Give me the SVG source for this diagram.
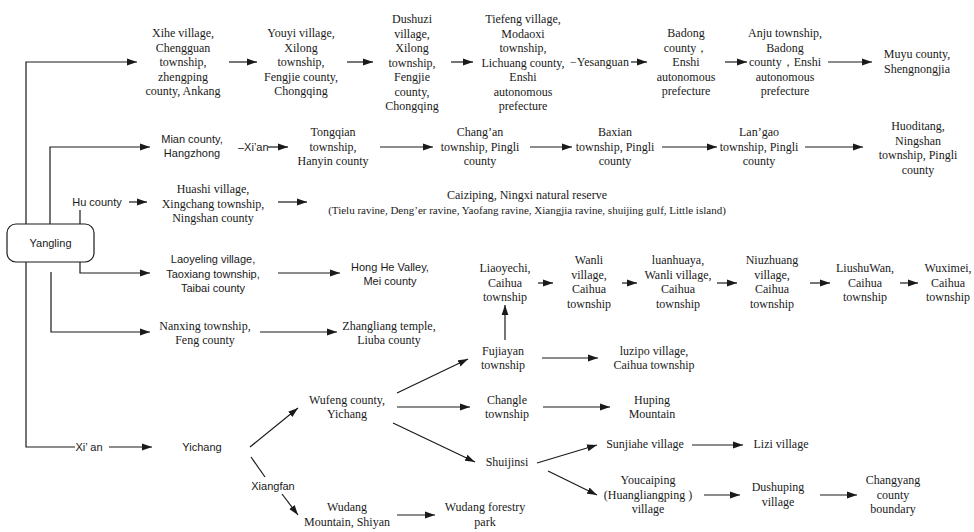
<svg xmlns="http://www.w3.org/2000/svg" width="974" height="532" viewBox="0 0 974 532">
<style>
.s{font-family:"Liberation Serif","Times New Roman",serif;font-size:12px;fill:#1a1a1a;text-anchor:middle}
.a{font-family:"Liberation Sans",Arial,sans-serif;font-size:11px;fill:#1a1a1a;text-anchor:middle}
.st{text-anchor:start}
.c path{fill:none;stroke:#1a1a1a;stroke-width:1.2}
.c .ar{marker-end:url(#ah)}
.box{fill:#fff;stroke:#1a1a1a;stroke-width:1.2}
</style>
<defs>
<marker id="ah" markerUnits="userSpaceOnUse" markerWidth="11" markerHeight="8" refX="10" refY="4" orient="auto">
<path d="M0,0.6 L10,4 L0,7.4 z" fill="#1a1a1a"/>
</marker>
</defs>
<rect width="974" height="532" fill="#fff"/>

<g id="connectors" class="c">
<path class="ar" d="M26,224 V62 H137"/>
<path class="ar" d="M50,224 V147 H150"/>
<path d="M80,224 V210"/>
<path class="ar" d="M129,202 H147"/>
<path class="ar" d="M278,202 H307"/>
<path class="ar" d="M268,147 H288"/>
<path class="ar" d="M380,147 H433"/>
<path class="ar" d="M530,147 H572"/>
<path class="ar" d="M662,147 H717"/>
<path class="ar" d="M805,147 H863"/>
<path class="ar" d="M229,62 H257"/>
<path class="ar" d="M347,62 H373"/>
<path class="ar" d="M451,62 H473"/>
<path class="ar" d="M631,62 H647"/>
<path class="ar" d="M725,62 H747"/>
<path class="ar" d="M828,62 H872"/>
<path class="ar" d="M80,262 V273 H150"/>
<path class="ar" d="M51,272 V332 H150"/>
<path d="M26,262 V447 H75"/>
<path class="ar" d="M109,447 H152"/>
<path class="ar" d="M278,273 H340"/>
<path class="ar" d="M260,332 H337"/>
<path class="ar" d="M538,283 H553"/>
<path class="ar" d="M622,283 H637"/>
<path class="ar" d="M717,283 H737"/>
<path class="ar" d="M810,283 H830"/>
<path class="ar" d="M900,283 H918"/>
<path class="ar" d="M505,340 V305"/>
<path class="ar" d="M542,358 H598"/>
<path class="ar" d="M543,407 H610"/>
<path class="ar" d="M250,447 L298,408"/>
<path class="ar" d="M397,393 L468,359"/>
<path class="ar" d="M397,407 H470"/>
<path class="ar" d="M393,423 L475,462"/>
<path d="M251,457 L265,477"/>
<path class="ar" d="M282,494 L298,515"/>
<path class="ar" d="M397,515 H435"/>
<path class="ar" d="M537,463 L597,445"/>
<path class="ar" d="M692,445 H743"/>
<path class="ar" d="M548,471 L597,495"/>
<path class="ar" d="M704,495 H740"/>
<path class="ar" d="M820,495 H857"/>
</g>

<g id="n_yangling"><rect class="box" x="7" y="224" width="87" height="38" rx="9"/><text class="a" x="50.5" y="247">Yangling</text></g>

<g id="n_xihe"><text class="s" x="183" y="37"><tspan x="183">Xihe village,</tspan><tspan x="183" dy="14.5">Chengguan</tspan><tspan x="183" dy="14.5">township,</tspan><tspan x="183" dy="14.5">zhengping</tspan><tspan x="183" dy="14.5">county, Ankang</tspan></text></g>
<g id="n_youyi"><text class="s" x="301" y="37"><tspan x="301">Youyi village,</tspan><tspan x="301" dy="14.5">Xilong</tspan><tspan x="301" dy="14.5">township,</tspan><tspan x="301" dy="14.5">Fengjie county,</tspan><tspan x="301" dy="14.5">Chongqing</tspan></text></g>
<g id="n_dushuzi"><text class="s" x="412" y="23"><tspan x="412">Dushuzi</tspan><tspan x="412" dy="14.5">village,</tspan><tspan x="412" dy="14.5">Xilong</tspan><tspan x="412" dy="14.5">township,</tspan><tspan x="412" dy="14.5">Fengjie</tspan><tspan x="412" dy="14.5">county,</tspan><tspan x="412" dy="14.5">Chongqing</tspan></text></g>
<g id="n_tiefeng"><text class="s" x="523" y="23"><tspan x="523">Tiefeng village,</tspan><tspan x="523" dy="14.5">Modaoxi</tspan><tspan x="523" dy="14.5">township,</tspan><tspan x="523" dy="14.5">Lichuang county,</tspan><tspan x="523" dy="14.5">Enshi</tspan><tspan x="523" dy="14.5">autonomous</tspan><tspan x="523" dy="14.5">prefecture</tspan></text></g>
<g id="l_yesanguan"><text class="s st" x="570" y="66">−Yesanguan</text></g>
<g id="n_badong"><text class="s" x="686" y="37"><tspan x="686">Badong</tspan><tspan x="686" dy="14.5">county，</tspan><tspan x="686" dy="14.5">Enshi</tspan><tspan x="686" dy="14.5">autonomous</tspan><tspan x="686" dy="14.5">prefecture</tspan></text></g>
<g id="n_anju"><text class="s" x="785" y="37"><tspan x="785">Anju township,</tspan><tspan x="785" dy="14.5">Badong</tspan><tspan x="785" dy="14.5">county，Enshi</tspan><tspan x="785" dy="14.5">autonomous</tspan><tspan x="785" dy="14.5">prefecture</tspan></text></g>
<g id="n_muyu"><text class="s" x="917" y="58"><tspan x="917">Muyu county,</tspan><tspan x="917" dy="14.5">Shengnongjia</tspan></text></g>

<g id="n_mian"><text class="a" x="192" y="143"><tspan x="192">Mian county,</tspan><tspan x="192" dy="14">Hangzhong</tspan></text></g>
<g id="l_xian1"><text class="a st" x="238" y="151">–Xi’an</text></g>
<g id="n_tongqian"><text class="s" x="333" y="136"><tspan x="333">Tongqian</tspan><tspan x="333" dy="14.5">township,</tspan><tspan x="333" dy="14.5">Hanyin county</tspan></text></g>
<g id="n_changan"><text class="s" x="480" y="136"><tspan x="480">Chang’an</tspan><tspan x="480" dy="14.5">township, Pingli</tspan><tspan x="480" dy="14.5">county</tspan></text></g>
<g id="n_baxian"><text class="s" x="615" y="136"><tspan x="615">Baxian</tspan><tspan x="615" dy="14.5">township, Pingli</tspan><tspan x="615" dy="14.5">county</tspan></text></g>
<g id="n_langao"><text class="s" x="759" y="136"><tspan x="759">Lan’gao</tspan><tspan x="759" dy="14.5">township, Pingli</tspan><tspan x="759" dy="14.5">county</tspan></text></g>
<g id="n_huoditang"><text class="s" x="918" y="130"><tspan x="918">Huoditang,</tspan><tspan x="918" dy="14.5">Ningshan</tspan><tspan x="918" dy="14.5">township, Pingli</tspan><tspan x="918" dy="14.5">county</tspan></text></g>

<g id="n_hucounty"><text class="a" x="97" y="206">Hu county</text></g>
<g id="n_huashi"><text class="s" x="213" y="193"><tspan x="213">Huashi village,</tspan><tspan x="213" dy="14.5">Xingchang township,</tspan><tspan x="213" dy="14.5">Ningshan county</tspan></text></g>
<g id="n_caiziping"><text class="s" x="527" y="199">Caiziping, Ningxi natural reserve</text><text class="s" x="527" y="214" style="font-size:11px">(Tielu ravine, Deng’er ravine, Yaofang ravine, Xiangjia ravine, shuijing gulf, Little island)</text></g>

<g id="n_laoyeling"><text class="a" x="213" y="263"><tspan x="213">Laoyeling village,</tspan><tspan x="213" dy="14.5">Taoxiang township,</tspan><tspan x="213" dy="14.5">Taibai county</tspan></text></g>
<g id="n_honghe"><text class="a" x="390" y="271"><tspan x="390">Hong He Valley,</tspan><tspan x="390" dy="14">Mei county</tspan></text></g>
<g id="n_nanxing"><text class="s" x="205" y="330"><tspan x="205">Nanxing township,</tspan><tspan x="205" dy="14">Feng county</tspan></text></g>
<g id="n_zhangliang"><text class="s" x="389" y="330"><tspan x="389">Zhangliang temple,</tspan><tspan x="389" dy="14">Liuba county</tspan></text></g>

<g id="n_liaoyechi"><text class="s" x="505" y="272"><tspan x="505">Liaoyechi,</tspan><tspan x="505" dy="14.5">Caihua</tspan><tspan x="505" dy="14.5">township</tspan></text></g>
<g id="n_wanli"><text class="s" x="589" y="264"><tspan x="589">Wanli</tspan><tspan x="589" dy="14.5">village,</tspan><tspan x="589" dy="14.5">Caihua</tspan><tspan x="589" dy="14.5">township</tspan></text></g>
<g id="n_luanhuaya"><text class="s" x="678" y="264"><tspan x="678">luanhuaya,</tspan><tspan x="678" dy="14.5">Wanli village,</tspan><tspan x="678" dy="14.5">Caihua</tspan><tspan x="678" dy="14.5">township</tspan></text></g>
<g id="n_niuzhuang"><text class="s" x="772" y="264"><tspan x="772">Niuzhuang</tspan><tspan x="772" dy="14.5">village,</tspan><tspan x="772" dy="14.5">Caihua</tspan><tspan x="772" dy="14.5">township</tspan></text></g>
<g id="n_liushuwan"><text class="s" x="865" y="272"><tspan x="865">LiushuWan,</tspan><tspan x="865" dy="14.5">Caihua</tspan><tspan x="865" dy="14.5">township</tspan></text></g>
<g id="n_wuximei"><text class="s" x="948" y="272"><tspan x="948">Wuximei,</tspan><tspan x="948" dy="14.5">Caihua</tspan><tspan x="948" dy="14.5">township</tspan></text></g>

<g id="n_fujiayan"><text class="s" x="503" y="355"><tspan x="503">Fujiayan</tspan><tspan x="503" dy="14">township</tspan></text></g>
<g id="n_luzipo"><text class="s" x="654" y="355"><tspan x="654">luzipo village,</tspan><tspan x="654" dy="14">Caihua township</tspan></text></g>
<g id="n_changle"><text class="s" x="507" y="404"><tspan x="507">Changle</tspan><tspan x="507" dy="14">township</tspan></text></g>
<g id="n_huping"><text class="s" x="652" y="404"><tspan x="652">Huping</tspan><tspan x="652" dy="14">Mountain</tspan></text></g>
<g id="n_shuijinsi"><text class="s" x="507" y="466">Shuijinsi</text></g>
<g id="n_sunjiahe"><text class="s" x="645" y="448">Sunjiahe village</text></g>
<g id="n_lizi"><text class="s" x="781" y="448">Lizi village</text></g>
<g id="n_youcaiping"><text class="s" x="648" y="484"><tspan x="648">Youcaiping</tspan><tspan x="648" dy="14.5">(Huangliangping )</tspan><tspan x="648" dy="14.5">village</tspan></text></g>
<g id="n_dushuping"><text class="s" x="778" y="491"><tspan x="778">Dushuping</tspan><tspan x="778" dy="14.5">village</tspan></text></g>
<g id="n_changyang"><text class="s" x="893" y="484"><tspan x="893">Changyang</tspan><tspan x="893" dy="14.5">county</tspan><tspan x="893" dy="14.5">boundary</tspan></text></g>

<g id="l_xian2"><text class="a" x="89" y="451">Xi’ an</text></g>
<g id="n_yichang"><text class="a" x="202" y="451">Yichang</text></g>
<g id="n_wufeng"><text class="s" x="347" y="404"><tspan x="347">Wufeng county,</tspan><tspan x="347" dy="14">Yichang</tspan></text></g>
<g id="l_xiangfan"><text class="a" x="273" y="490">Xiangfan</text></g>
<g id="n_wudang"><text class="s" x="347" y="511"><tspan x="347">Wudang</tspan><tspan x="347" dy="14.5">Mountain, Shiyan</tspan></text></g>
<g id="n_forestry"><text class="s" x="485" y="511"><tspan x="485">Wudang forestry</tspan><tspan x="485" dy="14.5">park</tspan></text></g>
</svg>
